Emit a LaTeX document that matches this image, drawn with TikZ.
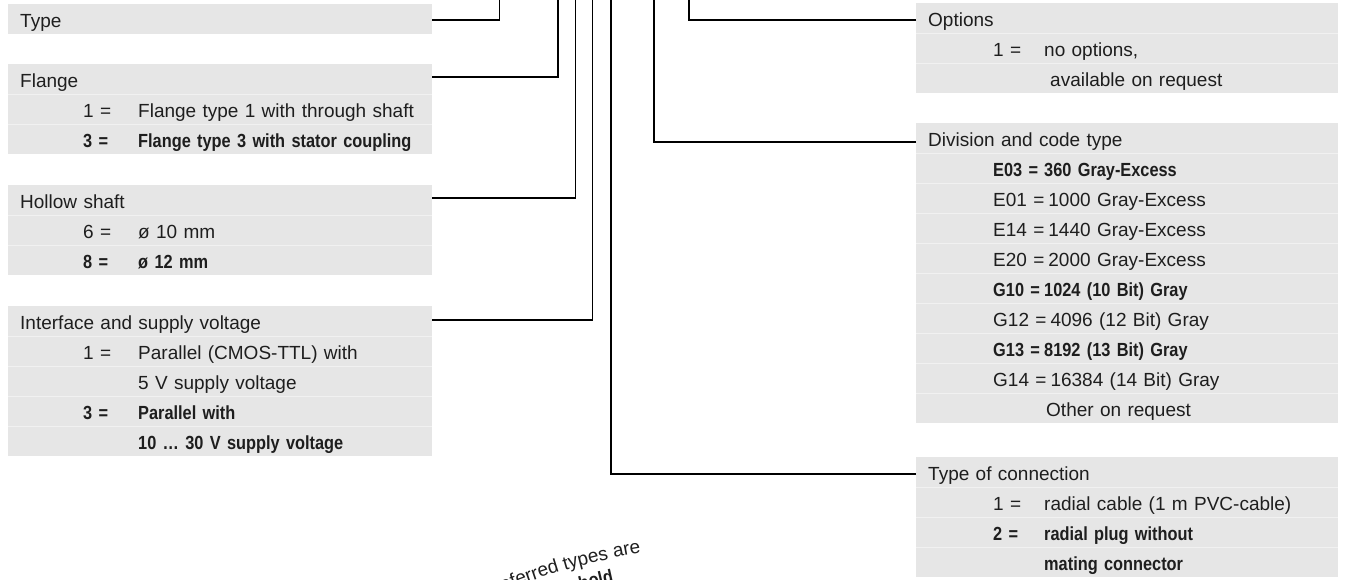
\documentclass[tikz,border=0pt]{standalone}
\usepackage{fontspec}
\setmainfont{Liberation Sans}[BoldFeatures={FakeStretch=0.86}]
\usetikzlibrary{decorations.text}
\definecolor{boxgray}{HTML}{E6E6E6}
\definecolor{sepgray}{HTML}{F1F1F1}
\definecolor{ink}{HTML}{1E1E1E}
% option line: code column + description column
\newcommand\codecol[2]{%
  \setbox0\hbox{#2\hspace{4pt}}%
  \ifdim\wd0<#1\relax\makebox[#1][l]{#2}\else\box0\relax\fi}
\newcommand\optL[2]{\hspace*{63pt}\codecol{55pt}{#1}#2}
\newcommand\contL[1]{\hspace*{118pt}#1}
\newcommand\optR[2]{\hspace*{65pt}\codecol{51pt}{#1}#2}
\newcommand\contR[2][116pt]{\hspace*{#1}#2}
\begin{document}
\begin{tikzpicture}[x=1pt,y=-1pt,
  row/.style={fill=boxgray, anchor=north west, minimum height=30pt,
    inner xsep=12pt, inner ysep=0pt, text width=400pt, align=left,
    text height=17pt, text depth=1pt, text=ink,
    font=\fontsize{19}{21}\selectfont},
  rowR/.style={row, text width=398pt},
  sep/.style={sepgray, line width=0.8pt},
  link/.style={line width=1.8pt, black}]
\useasboundingbox (0,0) rectangle (1346,580);

% ---- left column ----
\node[row] (t0) at (8,4) {Type};

\node[row] (f0) at (8,64) {Flange};
\node[row] (f1) at (8,94) {\optL{1 =}{Flange type 1 with through shaft}};
\node[row] (f2) at (8,124) {\bfseries\optL{3 =}{Flange type 3 with stator coupling}};

\node[row] (h0) at (8,185) {Hollow shaft};
\node[row] (h1) at (8,215) {\optL{6 =}{ø 10 mm}};
\node[row] (h2) at (8,245) {\bfseries\optL{8 =}{ø 12 mm}};

\node[row] (i0) at (8,306) {Interface and supply voltage};
\node[row] (i1) at (8,336) {\optL{1 =}{Parallel (CMOS-TTL) with}};
\node[row] (i2) at (8,366) {\contL{5 V supply voltage}};
\node[row] (i3) at (8,396) {\bfseries\optL{3 =}{Parallel with}};
\node[row] (i4) at (8,426) {\bfseries\contL{10 … 30 V supply voltage}};

% ---- right column ----
\node[rowR] (o0) at (916,3) {Options};
\node[rowR] (o1) at (916,33) {\optR{1 =}{no options,}};
\node[rowR] (o2) at (916,63) {\contR[122pt]{available on request}};

\node[rowR] (d0) at (916,123) {Division and code type};
\node[rowR] (d1) at (916,153) {\bfseries\optR{E03 =}{360 Gray-Excess}};
\node[rowR] (d2) at (916,183) {\optR{E01 =}{1000 Gray-Excess}};
\node[rowR] (d3) at (916,213) {\optR{E14 =}{1440 Gray-Excess}};
\node[rowR] (d4) at (916,243) {\optR{E20 =}{2000 Gray-Excess}};
\node[rowR] (d5) at (916,273) {\bfseries\optR{G10 =}{1024 (10 Bit) Gray}};
\node[rowR] (d6) at (916,303) {\optR{G12 =}{4096 (12 Bit) Gray}};
\node[rowR] (d7) at (916,333) {\bfseries\optR{G13 =}{8192 (13 Bit) Gray}};
\node[rowR] (d8) at (916,363) {\optR{G14 =}{16384 (14 Bit) Gray}};
\node[rowR] (d9) at (916,393) {\contR[118pt]{Other on request}};

\node[rowR] (c0) at (916,457) {Type of connection};
\node[rowR] (c1) at (916,487) {\optR{1 =}{radial cable (1 m PVC-cable)}};
\node[rowR] (c2) at (916,517) {\bfseries\optR{2 =}{radial plug without}};
\node[rowR] (c3) at (916,547) {\bfseries\contR[116pt]{mating connector}};

% faint separators between the rows of each block
\foreach \r in {f1,f2,h1,h2,i1,i2,i3,i4,o1,o2,d1,d2,d3,d4,d5,d6,d7,d8,d9,c1,c2,c3}
  \draw[sep] (\r.north west) -- (\r.north east);

% ---- key lines running up to the type code ----
\coordinate (topT) at (499.5,-2);
\coordinate (topF) at (558,-2);
\coordinate (topH) at (575.5,-2);
\coordinate (topI) at (592.5,-2);
\coordinate (topC) at (611,-2);
\coordinate (topD) at (654,-2);
\coordinate (topO) at (689,-2);

\draw[link] ([yshift=-1pt]t0.east) -| (topT);
\draw[link] ([yshift=2pt]f0.east) -| (topF);
\draw[link] ([yshift=2pt]h0.east) -| (topH);
\draw[link] ([yshift=1pt]i0.east) -| (topI);
\draw[link] ([yshift=-2pt]c0.west) -| (topC);
\draw[link] ([yshift=-4pt]d0.west) -| (topD);
\draw[link] ([yshift=-2pt]o0.west) -| (topO);

% ---- round stamp text, cut by the page edge ----
\begin{scope}
  \clip (0,0) rectangle (1346,580);
  \begin{scope}[shift={(738,1165.4)}, y=1pt]
    \path[decorate, decoration={text along path, text align=right,
        text={|\fontsize{19}{21}\selectfont\color{ink}|Preferred types are}}]
      (135:620) arc[start angle=135, end angle=99, radius=620];
    \path[decorate, decoration={text along path, text align=right,
        text={|\fontsize{19}{21}\selectfont\bfseries\color{ink}|in bold}}]
      (132:596) arc[start angle=132, end angle=102, radius=596];
  \end{scope}
\end{scope}
\end{tikzpicture}
\end{document}
